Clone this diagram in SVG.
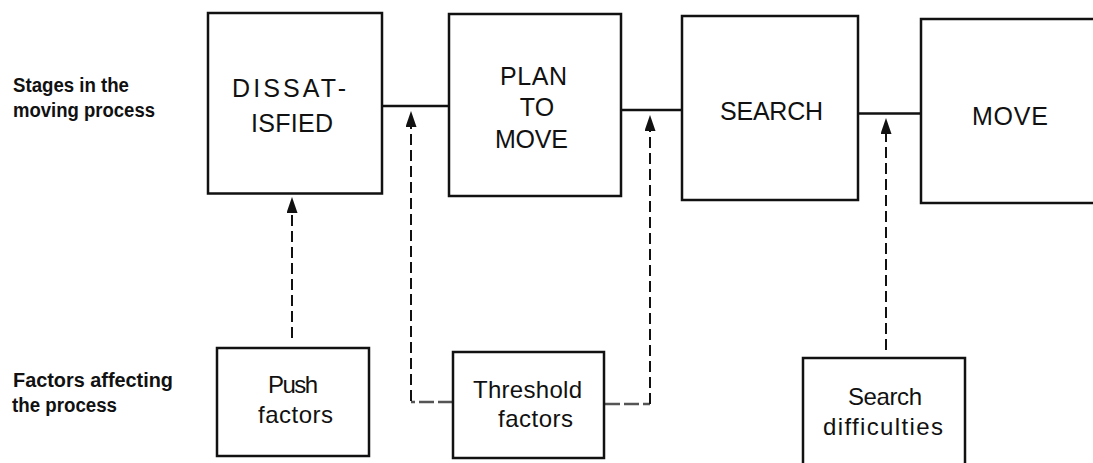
<svg xmlns="http://www.w3.org/2000/svg" width="1093" height="463" viewBox="0 0 1093 463">
<style>
.box{fill:#fff;stroke:#111;stroke-width:2.5}
.t{font-family:"Liberation Sans",Arial,sans-serif;font-size:25px;fill:#111}
.s{font-family:"Liberation Sans",Arial,sans-serif;font-size:24px;fill:#111}
.lab{font-family:"Liberation Sans",Arial,sans-serif;font-size:20px;font-weight:bold;fill:#111}
.main{fill:none;stroke:#111;stroke-width:2.5}
.dash{fill:none;stroke:#111;stroke-width:2;stroke-dasharray:11 5}
.hdash{fill:none;stroke:#555;stroke-width:2.5;stroke-dasharray:15 4}
</style>
<defs>
<marker id="ah" viewBox="0 0 16 11" refX="0" refY="5.5" markerWidth="16" markerHeight="11" markerUnits="userSpaceOnUse" orient="auto">
<path d="M0,0 L16,5.5 L0,11 z" fill="#111"/>
</marker>
</defs>
<rect width="1093" height="463" fill="#fff"/>
<g id="labels">
<text class="lab" x="13" y="92" textLength="116" lengthAdjust="spacingAndGlyphs">Stages in the</text>
<text class="lab" x="13" y="117" textLength="142" lengthAdjust="spacingAndGlyphs">moving process</text>
<text class="lab" x="13" y="387" textLength="160" lengthAdjust="spacingAndGlyphs">Factors affecting</text>
<text class="lab" x="12" y="412" textLength="105" lengthAdjust="spacingAndGlyphs">the process</text>
</g>
<g id="connectors">
<path class="main" d="M382,106 H449"/>
<path class="main" d="M621,110 H682"/>
<path class="main" d="M858,113.5 H921"/>
<path class="dash" d="M292,338 V213" marker-end="url(#ah)"/>
<path class="hdash" d="M453,402 H411"/>
<path class="dash" d="M411,401 V127" marker-end="url(#ah)"/>
<path class="hdash" d="M605,404 H650"/>
<path class="dash" d="M650,404 V131" marker-end="url(#ah)"/>
<path class="dash" d="M886,350 V134" marker-end="url(#ah)"/>
</g>
<g id="dissatisfied">
<rect class="box" x="208" y="13" width="174" height="180.5"/>
<text class="t" x="232" y="97" textLength="114">DISSAT-</text>
<text class="t" x="251" y="132" textLength="82">ISFIED</text>
</g>
<g id="plan-to-move">
<rect class="box" x="449" y="14" width="172" height="182"/>
<text class="t" x="500" y="85" textLength="67">PLAN</text>
<text class="t" x="537" y="116" text-anchor="middle">TO</text>
<text class="t" x="495" y="148" textLength="73">MOVE</text>
</g>
<g id="search">
<rect class="box" x="682" y="16" width="176" height="184"/>
<text class="t" x="720" y="120" textLength="103">SEARCH</text>
</g>
<g id="move">
<rect class="box" x="921" y="19" width="185" height="184"/>
<text class="t" x="972" y="125" textLength="76">MOVE</text>
</g>
<g id="push-factors">
<rect class="box" x="217" y="348" width="152" height="108"/>
<text class="s" x="268" y="393" textLength="50">Push</text>
<text class="s" x="258" y="423" textLength="75">factors</text>
</g>
<g id="threshold-factors">
<rect class="box" x="453" y="352" width="151" height="106"/>
<text class="s" x="473" y="398" textLength="109">Threshold</text>
<text class="s" x="498" y="427" textLength="75">factors</text>
</g>
<g id="search-difficulties">
<rect class="box" x="803" y="358" width="162" height="120"/>
<text class="s" x="848" y="405" textLength="74">Search</text>
<text class="s" x="823" y="435" textLength="120">difficulties</text>
</g>
</svg>
